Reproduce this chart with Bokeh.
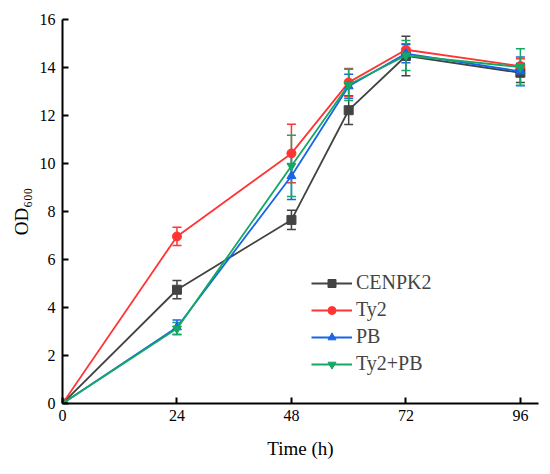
from bokeh.plotting import figure
from bokeh.models import (ColumnDataSource, Whisker, TeeHead, Legend, LegendItem,
                          FixedTicker, Range1d)
from bokeh.embed import file_html
from bokeh.resources import INLINE

time_h = [0, 24, 48, 60, 72, 96]
cenpk2 = [0, 4.74, 7.65, 12.22, 14.48, 13.78]
cenpk2_err = [0, 0.38, 0.40, 0.60, 0.82, 0.40]
ty2 = [0, 6.96, 10.42, 13.38, 14.74, 14.06]
ty2_err = [0, 0.38, 1.22, 0.58, 0.25, 0.30]
pb = [0, 3.18, 9.48, 13.22, 14.58, 13.84]
pb_err = [0, 0.30, 0.98, 0.50, 0.38, 0.60]
ty2pb = [0, 3.12, 9.90, 13.28, 14.50, 14.02]
ty2pb_err = [0, 0.25, 1.28, 0.65, 0.62, 0.76]

names = ["CENPK2", "Ty2", "PB", "Ty2+PB"]
colors = ["#434343", "#ff3535", "#1766e6", "#14a862"]
markers = ["square", "circle", "triangle", "inverted_triangle"]
x_ticks = [0, 24, 48, 72, 96]
y_ticks = [0, 2, 4, 6, 8, 10, 12, 14, 16]
x_title = "Time (h)"
y_title = "OD\u2086\u2080\u2080"

FONT = "Liberation Serif"

W, H = 542, 466
p = figure(width=W, height=H, output_backend="svg", toolbar_location=None,
           x_range=Range1d(0, 99.8), y_range=Range1d(0, 16),
           min_border_left=62, min_border_right=4, min_border_top=19,
           min_border_bottom=63)
p.outline_line_color = None
p.xgrid.grid_line_color = None
p.ygrid.grid_line_color = None

for ax in (p.xaxis[0], p.yaxis[0]):
    ax.axis_line_width = 2
    ax.axis_line_color = "black"
    ax.major_tick_in = 6
    ax.major_tick_out = 0
    ax.major_tick_line_width = 2
    ax.minor_tick_line_color = None
    ax.major_label_text_font = FONT
    ax.major_label_text_font_size = "16px"
    ax.major_label_text_color = "black"
    ax.axis_label_text_font = FONT
    ax.axis_label_text_font_size = "19px"
    ax.axis_label_text_font_style = "normal"
    ax.axis_label_text_color = "black"

p.xaxis[0].ticker = FixedTicker(ticks=x_ticks)
p.yaxis[0].ticker = FixedTicker(ticks=y_ticks)
p.xaxis[0].major_label_standoff = 6
p.yaxis[0].major_label_standoff = 7
p.xaxis[0].axis_label = x_title
p.xaxis[0].axis_label_standoff = 14
p.yaxis[0].axis_label = y_title
p.yaxis[0].axis_label_standoff = 5

series = [(cenpk2, cenpk2_err), (ty2, ty2_err), (pb, pb_err), (ty2pb, ty2pb_err)]
items = []
for (vals, errs), name, c, m in zip(series, names, colors, markers):
    src = ColumnDataSource(dict(x=time_h, y=vals,
                                lo=[v - e for v, e in zip(vals, errs)],
                                hi=[v + e for v, e in zip(vals, errs)]))
    w = Whisker(source=src, base="x", lower="lo", upper="hi",
                line_color=c, line_width=1.5,
                upper_head=TeeHead(size=9, line_color=c, line_width=1.5),
                lower_head=TeeHead(size=9, line_color=c, line_width=1.5))
    p.add_layout(w)
    ln = p.line("x", "y", source=src, line_color=c, line_width=1.8)
    sc = p.scatter("x", "y", source=src, marker=m, size=9, fill_color=c, line_color=c)
    items.append(LegendItem(label=name, renderers=[ln, sc]))

legend = Legend(items=items, location=(249, 28), padding=0, margin=0,
                border_line_alpha=0, background_fill_alpha=0,
                glyph_width=41, glyph_height=20, label_height=20, spacing=4,
                label_text_font=FONT, label_text_font_size="20px",
                label_standoff=4)
p.add_layout(legend)

open("out.html", "w").write(file_html(p, INLINE))
